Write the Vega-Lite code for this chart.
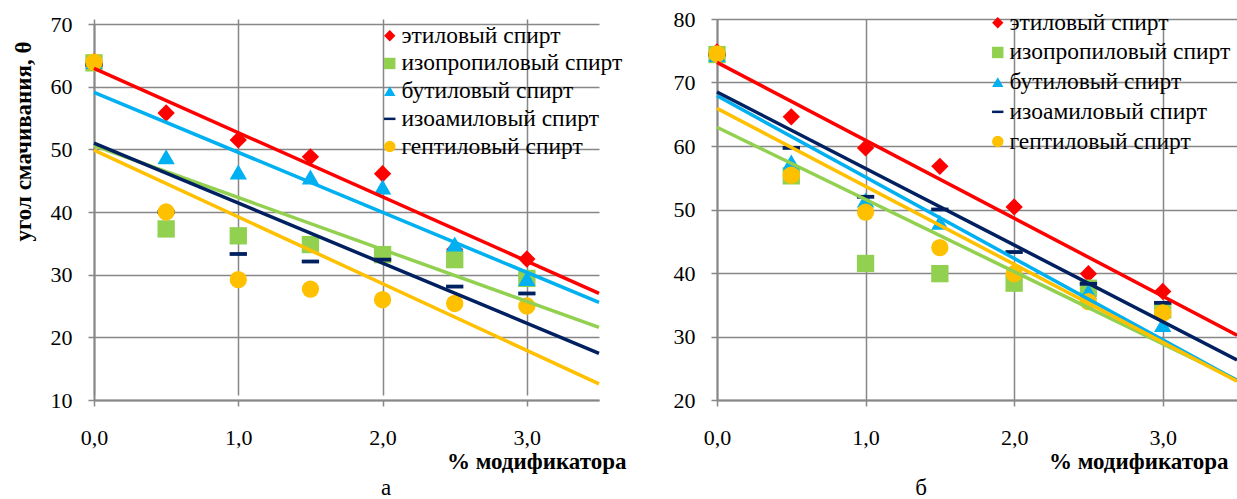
{
  "$schema": "https://vega.github.io/schema/vega-lite/v6.json",
  "background": "white",
  "padding": {"left": 11, "top": 8, "right": 1, "bottom": 2},
  "config": {
    "font": "'Liberation Serif', 'DejaVu Serif', serif",
    "view": {"stroke": null},
    "axis": {
      "labelFont": "'Liberation Serif', 'DejaVu Serif', serif", "labelFontSize": 22, "labelColor": "black",
      "titleFont": "'Liberation Serif', 'DejaVu Serif', serif", "titleFontSize": 23, "titleFontWeight": "bold", "titleColor": "black",
      "gridColor": "#878787", "gridWidth": 1.5, "gridOpacity": 1,
      "domainColor": "#878787", "domainWidth": 2,
      "tickColor": "#878787", "tickSize": 6, "tickWidth": 1.5,
      "labelFlush": false, "labelOverlap": false
    },
    "legend": {"labelFont": "'Liberation Serif', 'DejaVu Serif', serif", "labelFontSize": 23.5, "labelColor": "black", "labelLimit": 400}
  },
  "data": {"values": [
    {"panel": "a", "series": "этиловый спирт", "x": 0, "y": 64.0},
    {"panel": "a", "series": "этиловый спирт", "x": 0.5, "y": 55.8},
    {"panel": "a", "series": "этиловый спирт", "x": 1.0, "y": 51.5},
    {"panel": "a", "series": "этиловый спирт", "x": 1.5, "y": 48.8},
    {"panel": "a", "series": "этиловый спирт", "x": 2.0, "y": 46.1},
    {"panel": "a", "series": "этиловый спирт", "x": 2.5, "y": 34.0},
    {"panel": "a", "series": "этиловый спирт", "x": 3.0, "y": 32.5},
    {"panel": "a", "series": "изопропиловый спирт", "x": 0, "y": 63.8},
    {"panel": "a", "series": "изопропиловый спирт", "x": 0.5, "y": 37.3},
    {"panel": "a", "series": "изопропиловый спирт", "x": 1.0, "y": 36.2},
    {"panel": "a", "series": "изопропиловый спирт", "x": 1.5, "y": 34.8},
    {"panel": "a", "series": "изопропиловый спирт", "x": 2.0, "y": 33.2},
    {"panel": "a", "series": "изопропиловый спирт", "x": 2.5, "y": 32.4},
    {"panel": "a", "series": "изопропиловый спирт", "x": 3.0, "y": 29.4},
    {"panel": "a", "series": "бутиловый спирт", "x": 0, "y": 64.0},
    {"panel": "a", "series": "бутиловый спирт", "x": 0.5, "y": 48.8},
    {"panel": "a", "series": "бутиловый спирт", "x": 1.0, "y": 46.4},
    {"panel": "a", "series": "бутиловый спирт", "x": 1.5, "y": 45.6},
    {"panel": "a", "series": "бутиловый спирт", "x": 2.0, "y": 44.0},
    {"panel": "a", "series": "бутиловый спирт", "x": 2.5, "y": 34.9},
    {"panel": "a", "series": "бутиловый спирт", "x": 3.0, "y": 29.4},
    {"panel": "a", "series": "изоамиловый спирт", "x": 0, "y": 63.5},
    {"panel": "a", "series": "изоамиловый спирт", "x": 0.5, "y": 40.0},
    {"panel": "a", "series": "изоамиловый спирт", "x": 1.0, "y": 33.3},
    {"panel": "a", "series": "изоамиловый спирт", "x": 1.5, "y": 32.1},
    {"panel": "a", "series": "изоамиловый спирт", "x": 2.0, "y": 32.4},
    {"panel": "a", "series": "изоамиловый спирт", "x": 2.5, "y": 28.1},
    {"panel": "a", "series": "изоамиловый спирт", "x": 3.0, "y": 27.0},
    {"panel": "a", "series": "гептиловый спирт", "x": 0, "y": 63.9},
    {"panel": "a", "series": "гептиловый спирт", "x": 0.5, "y": 40.0},
    {"panel": "a", "series": "гептиловый спирт", "x": 1.0, "y": 29.2},
    {"panel": "a", "series": "гептиловый спирт", "x": 1.5, "y": 27.7},
    {"panel": "a", "series": "гептиловый спирт", "x": 2.0, "y": 26.0},
    {"panel": "a", "series": "гептиловый спирт", "x": 2.5, "y": 25.4},
    {"panel": "a", "series": "гептиловый спирт", "x": 3.0, "y": 25.0},
    {"panel": "b", "series": "этиловый спирт", "x": 0, "y": 74.8},
    {"panel": "b", "series": "этиловый спирт", "x": 0.5, "y": 64.6},
    {"panel": "b", "series": "этиловый спирт", "x": 1.0, "y": 59.7},
    {"panel": "b", "series": "этиловый спирт", "x": 1.5, "y": 56.8},
    {"panel": "b", "series": "этиловый спирт", "x": 2.0, "y": 50.4},
    {"panel": "b", "series": "этиловый спирт", "x": 2.5, "y": 39.9},
    {"panel": "b", "series": "этиловый спирт", "x": 3.0, "y": 37.1},
    {"panel": "b", "series": "изопропиловый спирт", "x": 0, "y": 74.4},
    {"panel": "b", "series": "изопропиловый спирт", "x": 0.5, "y": 55.3},
    {"panel": "b", "series": "изопропиловый спирт", "x": 1.0, "y": 41.5},
    {"panel": "b", "series": "изопропиловый спирт", "x": 1.5, "y": 39.9},
    {"panel": "b", "series": "изопропиловый спирт", "x": 2.0, "y": 38.4},
    {"panel": "b", "series": "изопропиловый спирт", "x": 2.5, "y": 37.6},
    {"panel": "b", "series": "изопропиловый спирт", "x": 3.0, "y": 34.2},
    {"panel": "b", "series": "бутиловый спирт", "x": 0, "y": 74.4},
    {"panel": "b", "series": "бутиловый спирт", "x": 0.5, "y": 57.5},
    {"panel": "b", "series": "бутиловый спирт", "x": 1.0, "y": 51.5},
    {"panel": "b", "series": "бутиловый спирт", "x": 1.5, "y": 48.0},
    {"panel": "b", "series": "бутиловый спирт", "x": 2.0, "y": 40.5},
    {"panel": "b", "series": "бутиловый спирт", "x": 2.5, "y": 37.1},
    {"panel": "b", "series": "бутиловый спирт", "x": 3.0, "y": 31.9},
    {"panel": "b", "series": "изоамиловый спирт", "x": 0, "y": 74.4},
    {"panel": "b", "series": "изоамиловый спирт", "x": 0.5, "y": 59.7},
    {"panel": "b", "series": "изоамиловый спирт", "x": 1.0, "y": 52.0},
    {"panel": "b", "series": "изоамиловый спирт", "x": 1.5, "y": 50.0},
    {"panel": "b", "series": "изоамиловый спирт", "x": 2.0, "y": 43.3},
    {"panel": "b", "series": "изоамиловый спирт", "x": 2.5, "y": 38.3},
    {"panel": "b", "series": "изоамиловый спирт", "x": 3.0, "y": 35.3},
    {"panel": "b", "series": "гептиловый спирт", "x": 0, "y": 74.5},
    {"panel": "b", "series": "гептиловый спирт", "x": 0.5, "y": 55.4},
    {"panel": "b", "series": "гептиловый спирт", "x": 1.0, "y": 49.6},
    {"panel": "b", "series": "гептиловый спирт", "x": 1.5, "y": 44.0},
    {"panel": "b", "series": "гептиловый спирт", "x": 2.0, "y": 39.9},
    {"panel": "b", "series": "гептиловый спирт", "x": 2.5, "y": 35.5},
    {"panel": "b", "series": "гептиловый спирт", "x": 3.0, "y": 33.7}
  ]},
  "spacing": 118,
  "bounds": "flush",
  "resolve": {
    "scale": {"color": "independent", "shape": "independent", "stroke": "independent"},
    "legend": {"color": "independent", "shape": "independent"}
  },
  "hconcat": [
    {
      "width": 505, "height": 381,
      "title": {"text": "а", "orient": "bottom", "anchor": "start", "frame": "group", "dx": 292, "align": "center", "offset": 4, "fontSize": 23, "fontWeight": "normal", "font": "'Liberation Serif', 'DejaVu Serif', serif", "color": "black"},
      "transform": [{"filter": "datum.panel == 'a'"}],
      "layer": [
        {
          "mark": {"type": "point", "filled": true, "opacity": 1, "size": 300, "strokeWidth": 0},
          "encoding": {
            "x": {"field": "x", "type": "quantitative",
              "scale": {"domain": [0, 3.5], "nice": false, "zero": false},
              "axis": {"values": [0, 1, 2, 3], "labelExpr": "replace(format(datum.value, '.1f'), '.', ',')", "labelPadding": 38, "labelBaseline": "alphabetic",
                "title": "% модификатора", "titleX": 532, "titleY": 68, "titleAlign": "right", "titleBaseline": "alphabetic"}},
            "y": {"field": "y", "type": "quantitative",
              "scale": {"domain": [10, 70], "range": [381, 5], "nice": false, "zero": false},
              "axis": {"values": [10, 20, 30, 40, 50, 60, 70], "labelPadding": 16,
                "title": "угол смачивания, θ", "titleX": -64, "titleY": 122, "titleAngle": -90, "titleAlign": "center", "titleBaseline": "alphabetic"}},
            "color": {"field": "series", "type": "nominal",
              "scale": {"domain": ["этиловый спирт", "изопропиловый спирт", "бутиловый спирт", "изоамиловый спирт", "гептиловый спирт"], "range": ["#FF0000", "#92D050", "#00B0F0", "#002060", "#FFC000"]},
              "legend": {"title": null, "orient": "none", "legendX": 284, "legendY": 5, "symbolSize": 130, "rowPadding": 2.7, "labelOffset": 0, "padding": 0, "symbolStrokeWidth": 0}},
            "shape": {"field": "series", "type": "nominal",
              "scale": {"domain": ["этиловый спирт", "изопропиловый спирт", "бутиловый спирт", "изоамиловый спирт", "гептиловый спирт"], "range": ["diamond", "square", "triangle-up", "M-1,-0.22H1V0.22H-1Z", "circle"]},
              "legend": {"title": null, "orient": "none", "legendX": 284, "legendY": 5, "symbolSize": 130, "rowPadding": 2.7, "labelOffset": 0, "padding": 0, "symbolStrokeWidth": 0}}
          }
        },
        {
          "transform": [{"regression": "y", "on": "x", "groupby": ["series"], "extent": [0, 3.5]}],
          "mark": {"type": "line", "strokeWidth": 3.5},
          "encoding": {
            "x": {"field": "x", "type": "quantitative"},
            "y": {"field": "y", "type": "quantitative"},
            "stroke": {"field": "series", "type": "nominal",
              "scale": {"domain": ["этиловый спирт", "изопропиловый спирт", "бутиловый спирт", "изоамиловый спирт", "гептиловый спирт"], "range": ["#FF0000", "#92D050", "#00B0F0", "#002060", "#FFC000"]},
              "legend": null}
          }
        }
      ]
    },
    {
      "width": 520, "height": 381,
      "title": {"text": "б", "orient": "bottom", "anchor": "start", "frame": "group", "dx": 204, "align": "center", "offset": 4, "fontSize": 23, "fontWeight": "normal", "font": "'Liberation Serif', 'DejaVu Serif', serif", "color": "black"},
      "transform": [{"filter": "datum.panel == 'b'"}],
      "layer": [
        {
          "mark": {"type": "point", "filled": true, "opacity": 1, "size": 300, "strokeWidth": 0},
          "encoding": {
            "x": {"field": "x", "type": "quantitative",
              "scale": {"domain": [0, 3.5], "nice": false, "zero": false},
              "axis": {"values": [0, 1, 2, 3], "labelExpr": "replace(format(datum.value, '.1f'), '.', ',')", "labelPadding": 38, "labelBaseline": "alphabetic",
                "title": "% модификатора", "titleX": 511, "titleY": 68, "titleAlign": "right", "titleBaseline": "alphabetic"}},
            "y": {"field": "y", "type": "quantitative",
              "scale": {"domain": [20, 80], "nice": false, "zero": false},
              "axis": {"values": [20, 30, 40, 50, 60, 70, 80], "labelPadding": 16, "title": null}},
            "color": {"field": "series", "type": "nominal",
              "scale": {"domain": ["этиловый спирт", "изопропиловый спирт", "бутиловый спирт", "изоамиловый спирт", "гептиловый спирт"], "range": ["#FF0000", "#92D050", "#00B0F0", "#002060", "#FFC000"]},
              "legend": {"title": null, "orient": "none", "legendX": 269, "legendY": -8, "symbolSize": 130, "rowPadding": 4.7, "labelOffset": 0, "padding": 0, "symbolStrokeWidth": 0}},
            "shape": {"field": "series", "type": "nominal",
              "scale": {"domain": ["этиловый спирт", "изопропиловый спирт", "бутиловый спирт", "изоамиловый спирт", "гептиловый спирт"], "range": ["diamond", "square", "triangle-up", "M-1,-0.22H1V0.22H-1Z", "circle"]},
              "legend": {"title": null, "orient": "none", "legendX": 269, "legendY": -8, "symbolSize": 130, "rowPadding": 4.7, "labelOffset": 0, "padding": 0, "symbolStrokeWidth": 0}}
          }
        },
        {
          "transform": [{"regression": "y", "on": "x", "groupby": ["series"], "extent": [0, 3.5]}],
          "mark": {"type": "line", "strokeWidth": 3.5},
          "encoding": {
            "x": {"field": "x", "type": "quantitative"},
            "y": {"field": "y", "type": "quantitative"},
            "stroke": {"field": "series", "type": "nominal",
              "scale": {"domain": ["этиловый спирт", "изопропиловый спирт", "бутиловый спирт", "изоамиловый спирт", "гептиловый спирт"], "range": ["#FF0000", "#92D050", "#00B0F0", "#002060", "#FFC000"]},
              "legend": null}
          }
        }
      ]
    }
  ]
}
